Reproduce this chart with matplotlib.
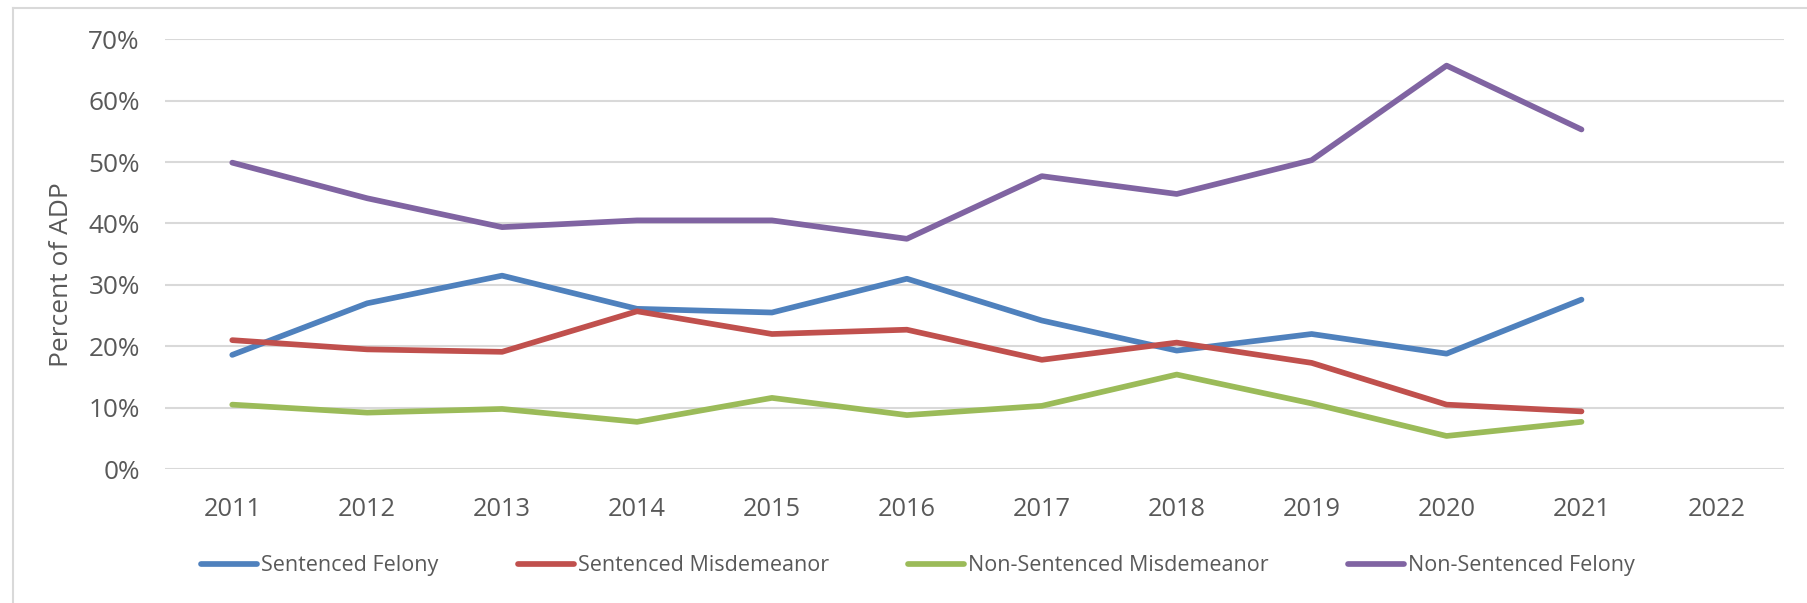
import matplotlib
matplotlib.use("Agg")
import matplotlib.pyplot as plt
from matplotlib.ticker import PercentFormatter
from matplotlib.lines import Line2D

plt.rcParams['font.family'] = ['Open Sans', 'DejaVu Sans']

years = ['2011', '2012', '2013', '2014', '2015', '2016', '2017', '2018', '2019', '2020', '2021', '2022']
sentenced_felony = [18.6, 27.0, 31.5, 26.1, 25.5, 31.0, 24.2, 19.3, 22.0, 18.8, 27.6]
sentenced_misd = [21.0, 19.5, 19.1, 25.7, 22.0, 22.7, 17.8, 20.6, 17.3, 10.5, 9.4]
nonsent_misd = [10.5, 9.2, 9.8, 7.7, 11.6, 8.8, 10.3, 15.4, 10.7, 5.4, 7.7]
nonsent_felony = [49.9, 44.1, 39.4, 40.5, 40.5, 37.5, 47.7, 44.8, 50.3, 65.7, 55.3]

series = [
    ('Sentenced Felony', sentenced_felony, '#4F81BD'),
    ('Sentenced Misdemeanor', sentenced_misd, '#C0504D'),
    ('Non-Sentenced Misdemeanor', nonsent_misd, '#9BBB59'),
    ('Non-Sentenced Felony', nonsent_felony, '#8064A2'),
]

fig = plt.figure(figsize=(18.07, 6.03), dpi=100)
ax = fig.add_axes([0.0912, 0.222, 0.896, 0.713])

for name, vals, col in series:
    ax.plot(range(len(vals)), vals, color=col, lw=4.1, label=name,
            solid_capstyle='round', solid_joinstyle='round')

ax.set_xlim(-0.5, len(years) - 0.5)
ax.set_ylim(0, 70)
ax.set_yticks(range(0, 71, 10))
ax.yaxis.set_major_formatter(PercentFormatter(decimals=0))
ax.set_xticks(range(len(years)))
ax.set_xticklabels(years)
ax.grid(axis='y', color='#D9D9D9', lw=1.5)
ax.set_axisbelow(True)
for s in ax.spines.values():
    s.set_visible(False)
ax.tick_params(length=0, labelsize=18.3, labelcolor='#595959')
ax.tick_params(axis='x', pad=20)
ax.tick_params(axis='y', labelsize=18.8, pad=18)
ax.set_ylabel('Percent of ADP', fontsize=19, color='#595959')
ax.yaxis.set_label_coords(-0.056, 0.453)

ax.legend(loc='center', bbox_to_anchor=(0.508, 0.062), bbox_transform=fig.transFigure,
          ncol=4, frameon=False, fontsize=15.5, labelcolor='#595959',
          handlelength=2.6, handletextpad=0.17, columnspacing=3.7)

# chart border (cropped at right/bottom)
fig.add_artist(Line2D([0.007, 0.007], [0, 0.987], color='#D9D9D9', lw=1.5))
fig.add_artist(Line2D([0.007, 1.0], [0.987, 0.987], color='#D9D9D9', lw=1.5))

fig.savefig('out.png', dpi=100)
